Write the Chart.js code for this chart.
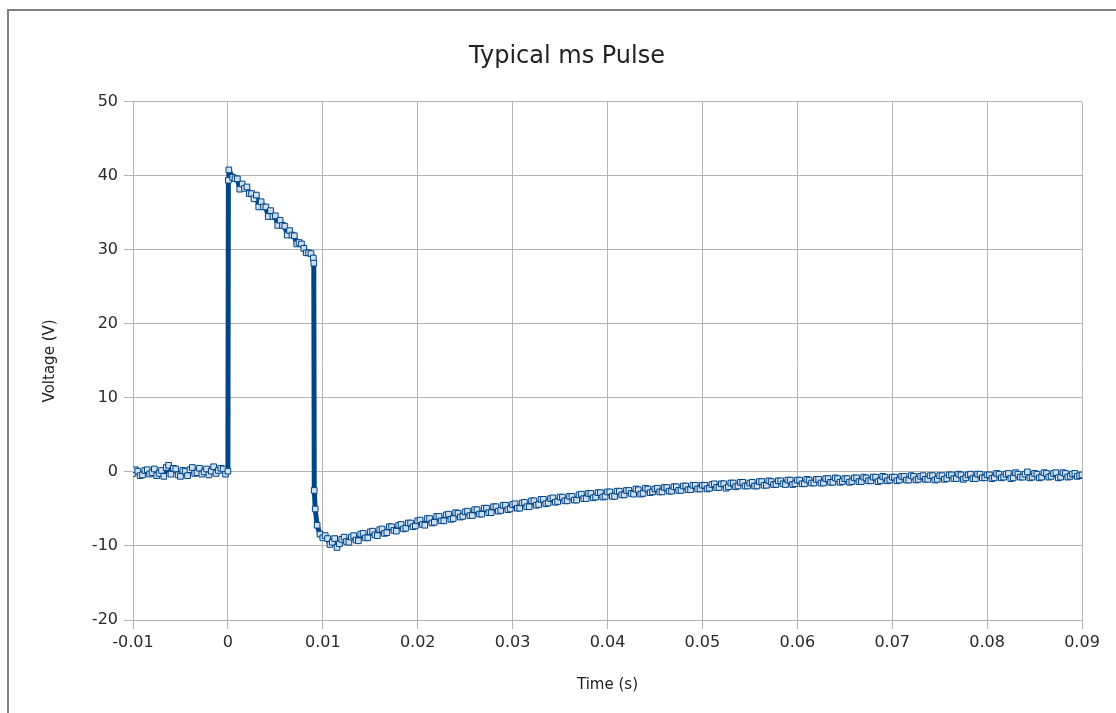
<!DOCTYPE html>
<html>
<head>
<meta charset="utf-8">
<title>Typical ms Pulse</title>
<script src="https://cdn.jsdelivr.net/npm/chart.js@4/dist/chart.umd.min.js"></script>
<style>
  html, body { margin: 0; padding: 0; background: #fff; overflow: hidden; }
  #frame { position: absolute; left: 7px; top: 9px; width: 1300px; height: 900px; border: 2px solid #7f7f7f; }
  #pulse { position: absolute; left: 0; top: 0; }
</style>
</head>
<body>
<div id="frame"></div>
<canvas id="pulse" width="1116" height="713"></canvas>
<script>
// baseline before the pulse
const baseTime = [-0.01, -0.0095, -0.009, -0.0085, -0.008, -0.0075, -0.007, -0.0065, -0.006, -0.0055,
  -0.005, -0.0045, -0.004, -0.0035, -0.003, -0.0025, -0.002, -0.0015, -0.001, -0.0005, 0];
const baseVolt = [-0.2, 0.1, -0.4, 0.3, -0.1, -0.5, 0.2, 0.6, -0.3, 0.4,
  -0.6, 0.1, 0.3, -0.2, 0.5, 0.0, -0.4, 0.7, 0.2, 0.4, 0.1];
const baseMidTime = [-0.00975, -0.00925, -0.00875, -0.00825, -0.00775, -0.00725, -0.00675, -0.00625, -0.00575, -0.00525,
  -0.00475, -0.00425, -0.00375, -0.00325, -0.00275, -0.00225, -0.00175, -0.00125, -0.00075, -0.00025];
const baseMidVolt = [0.3, -0.5, 0.2, -0.3, 0.4, -0.2, -0.6, 0.9, 0.5, -0.4,
  0.2, -0.5, 0.6, -0.1, -0.3, 0.4, 0.1, -0.2, 0.5, -0.3];

// the pulse itself (rise, droop)
const pulseTime = [0.00005, 0.0001, 0.0005, 0.001, 0.0015, 0.002, 0.0025, 0.003, 0.0035, 0.004,
  0.0045, 0.005, 0.0055, 0.006, 0.0065, 0.007, 0.0075, 0.008, 0.0085, 0.009];
const pulseVolt = [39.4, 40.8, 39.8, 39.6, 38.9, 38.5, 37.6, 37.4, 36.5, 35.8,
  35.3, 34.6, 34.0, 33.2, 32.6, 31.9, 31.0, 30.2, 29.6, 28.9];
const pulseMidTime = [0.00075, 0.00125, 0.00175, 0.00225, 0.00275, 0.00325, 0.00375, 0.00425, 0.00475,
  0.00525, 0.00575, 0.00625, 0.00675, 0.00725, 0.00775, 0.00825, 0.00875];
const pulseMidVolt = [39.6, 38.2, 38.3, 37.6, 36.9, 35.8, 35.8, 34.5, 34.5,
  33.3, 33.3, 32.0, 32.0, 30.8, 30.8, 29.6, 29.5];

// fall + undershoot
const fallTime = [0.00905, 0.0091, 0.0092, 0.0094, 0.0097, 0.01];
const fallVolt = [28.2, -2.5, -5.0, -7.2, -8.4, -8.9];

// recovery back towards 0
const recTime = [
  0.0105, 0.011, 0.0115, 0.012, 0.0125, 0.013, 0.0135, 0.014, 0.0145, 0.015,
  0.0155, 0.016, 0.0165, 0.017, 0.0175, 0.018, 0.0185, 0.019, 0.0195, 0.02,
  0.0205, 0.021, 0.0215, 0.022, 0.0225, 0.023, 0.0235, 0.024, 0.0245, 0.025,
  0.0255, 0.026, 0.0265, 0.027, 0.0275, 0.028, 0.0285, 0.029, 0.0295, 0.03,
  0.0305, 0.031, 0.0315, 0.032, 0.0325, 0.033, 0.0335, 0.034, 0.0345, 0.035,
  0.0355, 0.036, 0.0365, 0.037, 0.0375, 0.038, 0.0385, 0.039, 0.0395, 0.04,
  0.0405, 0.041, 0.0415, 0.042, 0.0425, 0.043, 0.0435, 0.044, 0.0445, 0.045,
  0.0455, 0.046, 0.0465, 0.047, 0.0475, 0.048, 0.0485, 0.049, 0.0495, 0.05,
  0.0505, 0.051, 0.0515, 0.052, 0.0525, 0.053, 0.0535, 0.054, 0.0545, 0.055,
  0.0555, 0.056, 0.0565, 0.057, 0.0575, 0.058, 0.0585, 0.059, 0.0595, 0.06,
  0.0605, 0.061, 0.0615, 0.062, 0.0625, 0.063, 0.0635, 0.064, 0.0645, 0.065,
  0.0655, 0.066, 0.0665, 0.067, 0.0675, 0.068, 0.0685, 0.069, 0.0695, 0.07,
  0.0705, 0.071, 0.0715, 0.072, 0.0725, 0.073, 0.0735, 0.074, 0.0745, 0.075,
  0.0755, 0.076, 0.0765, 0.077, 0.0775, 0.078, 0.0785, 0.079, 0.0795, 0.08,
  0.0805, 0.081, 0.0815, 0.082, 0.0825, 0.083, 0.0835, 0.084, 0.0845, 0.085,
  0.0855, 0.086, 0.0865, 0.087, 0.0875, 0.088, 0.0885, 0.089, 0.0895, 0.09
];
const recVolt = [
  -9.0, -9.5, -10.2, -9.1, -9.4, -8.8, -9.2, -8.4, -8.9, -8.1,
  -8.5, -7.8, -8.3, -7.4, -7.9, -7.2, -7.7, -6.9, -7.4, -6.6,
  -7.1, -6.3, -6.9, -6.0, -6.6, -5.8, -6.4, -5.5, -6.1, -5.4,
  -5.9, -5.1, -5.7, -4.9, -5.5, -4.7, -5.3, -4.5, -5.1, -4.4,
  -4.9, -4.2, -4.7, -3.9, -4.5, -3.7, -4.3, -3.6, -4.1, -3.4,
  -3.9, -3.3, -3.8, -3.1, -3.6, -2.9, -3.5, -2.8, -3.4, -2.7,
  -3.3, -2.6, -3.1, -2.5, -2.9, -2.3, -3.0, -2.2, -2.8, -2.3,
  -2.7, -2.1, -2.6, -2.0, -2.5, -1.9, -2.4, -1.8, -2.3, -1.8,
  -2.3, -1.7, -2.1, -1.6, -2.2, -1.5, -2.0, -1.4, -1.9, -1.5,
  -1.9, -1.3, -1.8, -1.2, -1.7, -1.2, -1.6, -1.1, -1.7, -1.1,
  -1.6, -1.0, -1.5, -1.0, -1.5, -0.9, -1.4, -0.8, -1.4, -0.9,
  -1.4, -0.8, -1.3, -0.7, -1.2, -0.7, -1.3, -0.6, -1.2, -0.7,
  -1.2, -0.6, -1.1, -0.5, -1.1, -0.6, -1.0, -0.5, -1.1, -0.5,
  -1.0, -0.4, -0.9, -0.3, -1.0, -0.4, -0.9, -0.3, -0.8, -0.4,
  -0.9, -0.2, -0.8, -0.3, -0.9, -0.1, -0.7, -0.3, -0.8, -0.2,
  -0.8, -0.1, -0.7, -0.2, -0.8, -0.1, -0.7, -0.3, -0.6, -0.4
];
const recMidTime = [
  0.01025, 0.01075, 0.01125, 0.01175, 0.01225, 0.01275, 0.01325, 0.01375, 0.01425, 0.01475,
  0.01525, 0.01575, 0.01625, 0.01675, 0.01725, 0.01775, 0.01825, 0.01875, 0.01925, 0.01975,
  0.02025, 0.02075, 0.02125, 0.02175, 0.02225, 0.02275, 0.02325, 0.02375, 0.02425, 0.02475,
  0.02525, 0.02575, 0.02625, 0.02675, 0.02725, 0.02775, 0.02825, 0.02875, 0.02925, 0.02975,
  0.03025, 0.03075, 0.03125, 0.03175, 0.03225, 0.03275, 0.03325, 0.03375, 0.03425, 0.03475,
  0.03525, 0.03575, 0.03625, 0.03675, 0.03725, 0.03775, 0.03825, 0.03875, 0.03925, 0.03975,
  0.04025, 0.04075, 0.04125, 0.04175, 0.04225, 0.04275, 0.04325, 0.04375, 0.04425, 0.04475,
  0.04525, 0.04575, 0.04625, 0.04675, 0.04725, 0.04775, 0.04825, 0.04875, 0.04925, 0.04975,
  0.05025, 0.05075, 0.05125, 0.05175, 0.05225, 0.05275, 0.05325, 0.05375, 0.05425, 0.05475,
  0.05525, 0.05575, 0.05625, 0.05675, 0.05725, 0.05775, 0.05825, 0.05875, 0.05925, 0.05975,
  0.06025, 0.06075, 0.06125, 0.06175, 0.06225, 0.06275, 0.06325, 0.06375, 0.06425, 0.06475,
  0.06525, 0.06575, 0.06625, 0.06675, 0.06725, 0.06775, 0.06825, 0.06875, 0.06925, 0.06975,
  0.07025, 0.07075, 0.07125, 0.07175, 0.07225, 0.07275, 0.07325, 0.07375, 0.07425, 0.07475,
  0.07525, 0.07575, 0.07625, 0.07675, 0.07725, 0.07775, 0.07825, 0.07875, 0.07925, 0.07975,
  0.08025, 0.08075, 0.08125, 0.08175, 0.08225, 0.08275, 0.08325, 0.08375, 0.08425, 0.08475,
  0.08525, 0.08575, 0.08625, 0.08675, 0.08725, 0.08775, 0.08825, 0.08875, 0.08925, 0.08975
];
const recMidVolt = [
  -8.6, -9.8, -9.0, -9.7, -8.8, -9.5, -8.6, -9.3, -8.3, -8.9,
  -8.0, -8.6, -7.7, -8.2, -7.4, -8.0, -7.1, -7.6, -6.9, -7.3,
  -6.5, -7.2, -6.3, -6.8, -6.0, -6.6, -5.7, -6.3, -5.6, -6.0,
  -5.3, -5.9, -5.1, -5.7, -4.9, -5.5, -4.7, -5.2, -4.5, -5.0,
  -4.3, -4.9, -4.1, -4.7, -3.9, -4.4, -3.7, -4.2, -3.5, -4.0,
  -3.4, -3.9, -3.3, -3.8, -3.0, -3.6, -2.9, -3.4, -2.8, -3.3,
  -2.7, -3.3, -2.6, -3.1, -2.5, -3.0, -2.4, -2.9, -2.3, -2.7,
  -2.2, -2.7, -2.1, -2.6, -2.0, -2.5, -1.9, -2.4, -1.8, -2.3,
  -1.8, -2.2, -1.6, -2.1, -1.6, -2.0, -1.5, -1.9, -1.4, -1.9,
  -1.4, -1.9, -1.3, -1.8, -1.3, -1.7, -1.2, -1.7, -1.1, -1.6,
  -1.1, -1.6, -1.1, -1.5, -1.0, -1.5, -0.9, -1.4, -0.9, -1.3,
  -0.9, -1.3, -0.8, -1.3, -0.8, -1.2, -0.7, -1.2, -0.7, -1.1,
  -0.7, -1.1, -0.6, -1.1, -0.6, -1.0, -0.5, -1.0, -0.5, -1.0,
  -0.5, -0.9, -0.4, -0.9, -0.4, -0.8, -0.3, -0.9, -0.3, -0.8,
  -0.4, -0.8, -0.3, -0.7, -0.2, -0.8, -0.3, -0.7, 0.0, -0.7,
  -0.3, -0.7, -0.2, -0.6, -0.1, -0.7, -0.2, -0.6, -0.2, -0.5
];

const yTicks = [-20, -10, 0, 10, 20, 30, 40, 50];
const xTicks = [-0.01, 0, 0.01, 0.02, 0.03, 0.04, 0.05, 0.06, 0.07, 0.08, 0.09];

const allTime = [...baseTime, ...baseMidTime, ...pulseTime, ...pulseMidTime, ...fallTime, ...recTime, ...recMidTime];
const allVolt = [...baseVolt, ...baseMidVolt, ...pulseVolt, ...pulseMidVolt, ...fallVolt, ...recVolt, ...recMidVolt];
const points = allTime.map((t, i) => ({ x: t, y: allVolt[i] })).sort((a, b) => a.x - b.x);

const gridGray = '#b3b3b3';
const font = 'DejaVu Sans';

new Chart(document.getElementById('pulse'), {
  type: 'scatter',
  data: {
    datasets: [{
      label: 'Voltage',
      data: points,
      showLine: true,
      borderColor: '#004586',
      borderWidth: 5,
      borderJoinStyle: 'round',
      borderCapStyle: 'round',
      pointStyle: 'rect',
      pointRadius: 4,
      pointBackgroundColor: '#cfdff0',
      pointBorderColor: '#004586',
      pointBorderWidth: 1,
      tension: 0
    }]
  },
  options: {
    responsive: false,
    animation: false,
    devicePixelRatio: 1,
    layout: { padding: { left: 18, right: 0, top: 0, bottom: 0 } },
    plugins: {
      legend: { display: false },
      tooltip: { enabled: false },
      title: {
        display: true,
        text: 'Typical ms Pulse',
        color: '#222',
        font: { family: font, size: 24, weight: 'normal' },
        padding: { top: 42, bottom: 31 }
      }
    },
    scales: {
      x: {
        type: 'linear',
        min: -0.01,
        max: 0.09,
        afterBuildTicks: (scale) => { scale.ticks = xTicks.map(v => ({ value: v })); },
        afterFit: (scale) => { scale.height = 93; },
        grid: { color: gridGray, tickLength: 9, tickColor: gridGray },
        border: { color: gridGray },
        ticks: {
          color: '#2a2a2a',
          padding: 4,
          maxRotation: 0,
          font: { family: font, size: 16 },
          callback: (v) => { const r = Math.round(v * 100) / 100; return r === 0 ? '0' : String(r); }
        },
        title: {
          display: true,
          text: 'Time (s)',
          color: '#222',
          font: { family: font, size: 15 },
          padding: { top: 0, bottom: 19 }
        }
      },
      y: {
        type: 'linear',
        min: -20,
        max: 50,
        afterBuildTicks: (scale) => { scale.ticks = yTicks.map(v => ({ value: v })); },
        afterFit: (scale) => { scale.width = 115; },
        grid: { color: gridGray, tickLength: 9, tickColor: gridGray },
        border: { color: gridGray },
        ticks: {
          color: '#2a2a2a',
          padding: 6,
          font: { family: font, size: 16 }
        },
        title: {
          display: true,
          text: 'Voltage (V)',
          color: '#222',
          font: { family: font, size: 15 },
          padding: { top: 23, bottom: 0 }
        }
      },
      yr: {
        type: 'linear',
        position: 'right',
        display: true,
        afterFit: (scale) => { scale.width = 34; },
        grid: { display: false },
        border: { display: false },
        ticks: { display: false }
      }
    }
  }
});
</script>
</body>
</html>
